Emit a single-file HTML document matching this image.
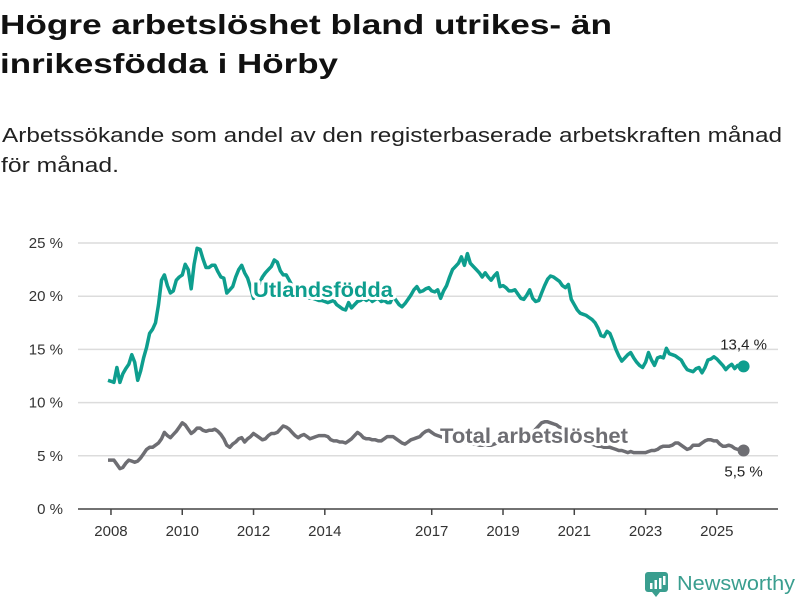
<!DOCTYPE html>
<html><head><meta charset="utf-8">
<style>
html,body{margin:0;padding:0;background:#fff;width:800px;height:600px;overflow:hidden;font-family:"Liberation Sans","DejaVu Sans",sans-serif;}
svg{display:block}
</style></head>
<body>
<svg id="chart" width="800" height="600">
  <text x="0" y="34" font-size="28" font-weight="bold" fill="#111" textLength="612" lengthAdjust="spacingAndGlyphs">Högre arbetslöshet bland utrikes- än</text>
  <text x="0" y="73" font-size="28" font-weight="bold" fill="#111" textLength="338" lengthAdjust="spacingAndGlyphs">inrikesfödda i Hörby</text>
  <text x="2" y="142" font-size="20" fill="#222" textLength="780" lengthAdjust="spacingAndGlyphs">Arbetssökande som andel av den registerbaserade arbetskraften månad</text>
  <text x="1" y="172" font-size="20" fill="#222" textLength="118" lengthAdjust="spacingAndGlyphs">för månad.</text>
  <g id="grid"></g>
  <g id="yaxis"></g>
  <g id="xaxis"></g>
  <g id="series"></g>
  <g>
    <rect x="645" y="572" width="23" height="20" rx="3" fill="#3a9e8f"/>
    <polygon points="652,592 660,592 656,597" fill="#3a9e8f"/>
    <rect x="650" y="583" width="2.5" height="6" fill="#fff"/>
    <rect x="654.5" y="580" width="2.5" height="9" fill="#fff"/>
    <rect x="659" y="578" width="2.5" height="11" fill="#fff"/>
    <rect x="663" y="576" width="2.5" height="9" fill="#fff"/>
    <text x="677" y="590" font-size="20" fill="#3a9e8f" textLength="118" lengthAdjust="spacingAndGlyphs">Newsworthy</text>
  </g>
</svg>
<script>
const yTicks=[0,5,10,15,20,25];
const yTickLabels=["0 %","5 %","10 %","15 %","20 %","25 %"];
const xTickYears=[2008,2010,2012,2014,2017,2019,2021,2023,2025];
const xTickLabels=["2008","2010","2012","2014","2017","2019","2021","2023","2025"];
const foreignBorn=[
12.1,12.0,11.9,13.3,11.9,12.7,13.2,13.6,14.5,13.8,12.1,13.0,
14.2,15.2,16.5,16.9,17.5,19.2,21.5,22.0,21.0,20.3,20.5,21.5,
21.8,22.0,23.0,22.5,20.7,23.0,24.5,24.4,23.5,22.7,22.7,22.9,
22.9,22.3,21.8,21.7,20.3,20.6,20.9,21.8,22.5,22.9,22.2,21.7,
20.8,19.8,20.5,21.2,21.8,22.2,22.5,22.8,23.4,23.2,22.4,22.0,
22.0,21.5,21.0,20.5,20.3,20.0,20.0,19.9,19.8,19.8,19.7,19.6,
19.6,19.5,19.4,19.5,19.6,19.2,19.0,18.8,18.7,19.4,18.9,19.2,
19.5,19.6,19.8,19.6,19.8,19.5,19.7,19.8,19.5,19.6,19.4,19.4,
20.0,19.6,19.2,19.0,19.3,19.7,20.1,20.6,20.9,20.4,20.5,20.7,
20.8,20.5,20.4,20.6,19.8,20.5,21.0,21.8,22.5,22.8,23.1,23.7,
22.9,24.0,23.1,22.8,22.5,22.2,21.8,22.2,21.8,21.5,21.9,22.2,
20.9,21.0,20.8,20.5,20.5,20.6,20.2,19.8,19.7,20.1,20.6,19.8,
19.5,19.6,20.3,21.0,21.6,21.9,21.8,21.6,21.4,21.0,20.8,21.1,
19.7,19.2,18.7,18.4,18.3,18.2,18.0,17.8,17.5,17.0,16.3,16.2,
16.7,16.5,15.8,15.0,14.4,13.9,14.2,14.5,14.7,14.2,13.8,13.5,
13.3,13.8,14.7,14.0,13.5,14.2,14.3,14.2,15.1,14.6,14.5,14.4,
14.2,14.0,13.5,13.1,13.0,12.9,13.2,13.3,12.8,13.3,14.0,14.1,
14.3,14.1,13.8,13.5,13.1,13.4,13.6,13.2,13.5,13.3,13.4];
const totalRate=[
4.6,4.6,4.6,4.2,3.8,3.9,4.3,4.6,4.5,4.4,4.5,4.8,
5.2,5.6,5.8,5.8,6.0,6.2,6.6,7.2,6.9,6.7,7.0,7.3,
7.7,8.1,7.9,7.5,7.1,7.3,7.6,7.6,7.4,7.3,7.4,7.4,
7.5,7.3,7.0,6.6,6.0,5.8,6.1,6.3,6.6,6.7,6.3,6.6,
6.8,7.1,6.9,6.7,6.5,6.6,6.9,7.1,7.1,7.2,7.5,7.8,
7.7,7.5,7.2,6.9,6.7,6.9,7.0,6.8,6.6,6.7,6.8,6.9,
6.9,6.9,6.8,6.5,6.4,6.4,6.3,6.3,6.2,6.4,6.6,6.9,
7.2,7.0,6.7,6.6,6.6,6.5,6.5,6.4,6.4,6.6,6.8,6.8,
6.8,6.6,6.4,6.2,6.1,6.3,6.5,6.6,6.7,6.8,7.1,7.3,
7.4,7.2,7.0,6.9,6.8,6.7,6.6,6.5,6.5,6.4,6.4,6.3,
6.3,6.2,6.2,6.1,6.1,6.0,6.0,6.1,6.0,6.0,6.1,6.2,
6.3,6.4,6.4,6.5,6.6,6.6,6.7,6.8,6.8,6.9,7.0,7.2,
7.5,7.8,8.1,8.2,8.2,8.1,8.0,7.9,7.7,7.6,7.5,7.4,
7.2,7.0,6.8,6.6,6.4,6.3,6.2,6.1,6.0,5.9,5.9,5.8,
5.8,5.8,5.7,5.6,5.5,5.5,5.4,5.3,5.4,5.3,5.3,5.3,
5.3,5.3,5.4,5.5,5.5,5.6,5.8,5.9,5.9,5.9,6.0,6.2,
6.2,6.0,5.8,5.6,5.7,6.0,6.0,6.0,6.2,6.4,6.5,6.5,
6.4,6.4,6.1,5.9,5.9,6.0,5.9,5.7,5.6,5.6,5.5];
const foreignEndLabel="13,4 %";
const totalEndLabel="5,5 %";

const NS="http://www.w3.org/2000/svg";
const X0=108, MONTH_PX=2.97, Y0=509, PCT_PX=10.64;
function xScale(m){return X0+m*MONTH_PX;}
function yearX(y){return xScale((y-2008)*12+1);}
function yScale(v){return Y0-v*PCT_PX;}
function mk(tag,attrs,parent){const e=document.createElementNS(NS,tag);for(const k in attrs)e.setAttribute(k,attrs[k]);parent.appendChild(e);return e;}

const grid=document.getElementById('grid'),ya=document.getElementById('yaxis'),xa=document.getElementById('xaxis'),ser=document.getElementById('series');
yTicks.forEach((v,i)=>{
  if(v>0){const l=mk('line',{x1:78,x2:778,y1:yScale(v),y2:yScale(v),stroke:'#dcdcdc','stroke-width':1.5},grid);
  
  }
  const t=mk('text',{x:63,y:yScale(v)+5,'text-anchor':'end','font-size':15,fill:'#333'},ya);
  t.textContent=yTickLabels[i];
  
  
});
const axl=mk('line',{x1:78,x2:778,y1:Y0,y2:Y0,stroke:'#444','stroke-width':1.5},xa);


xTickYears.forEach((y,i)=>{
  const x=yearX(y);
  const tk=mk('line',{x1:x,x2:x,y1:Y0,y2:Y0+6,stroke:'#444','stroke-width':1.5},xa);
  
  
  const t=mk('text',{x:x,y:536,'text-anchor':'middle','font-size':15,fill:'#333'},xa);
  t.textContent=xTickLabels[i];
  
  
});
function pathOf(arr){return arr.map((v,i)=>(i?'L':'M')+xScale(i).toFixed(1)+','+yScale(v).toFixed(1)).join('');}
const fp=mk('path',{d:pathOf(foreignBorn),fill:'none',stroke:'#0e9e8e','stroke-width':3.5,'stroke-linejoin':'round'},ser);


const tp=mk('path',{d:pathOf(totalRate),fill:'none',stroke:'#6e6e73','stroke-width':3.5,'stroke-linejoin':'round'},ser);


const fl=foreignBorn.length-1, tl=totalRate.length-1;
const fd=mk('circle',{cx:xScale(fl),cy:yScale(foreignBorn[fl]),r:6,fill:'#0e9e8e'},ser);


const td=mk('circle',{cx:xScale(tl),cy:yScale(totalRate[tl]),r:6,fill:'#6e6e73'},ser);


const fv=mk('text',{x:xScale(fl),y:yScale(foreignBorn[fl])-17,'text-anchor':'middle','font-size':15,fill:'#222'},ser);
fv.textContent=foreignEndLabel;


const tv=mk('text',{x:xScale(tl),y:yScale(totalRate[tl])+26,'text-anchor':'middle','font-size':15,fill:'#222'},ser);
tv.textContent=totalEndLabel;


const l1=mk('text',{x:253,y:297,'font-size':21,'font-weight':'bold',fill:'#0e9e8e',stroke:'#fff','stroke-width':6,'paint-order':'stroke','stroke-linejoin':'round',textLength:140,lengthAdjust:'spacingAndGlyphs'},ser);
l1.textContent='Utlandsfödda';


const l2=mk('text',{x:440,y:443,'font-size':21,'font-weight':'bold',fill:'#6e6e73',stroke:'#fff','stroke-width':6,'paint-order':'stroke','stroke-linejoin':'round',textLength:188,lengthAdjust:'spacingAndGlyphs'},ser);
l2.textContent='Total arbetslöshet';


</script>
</body></html>
